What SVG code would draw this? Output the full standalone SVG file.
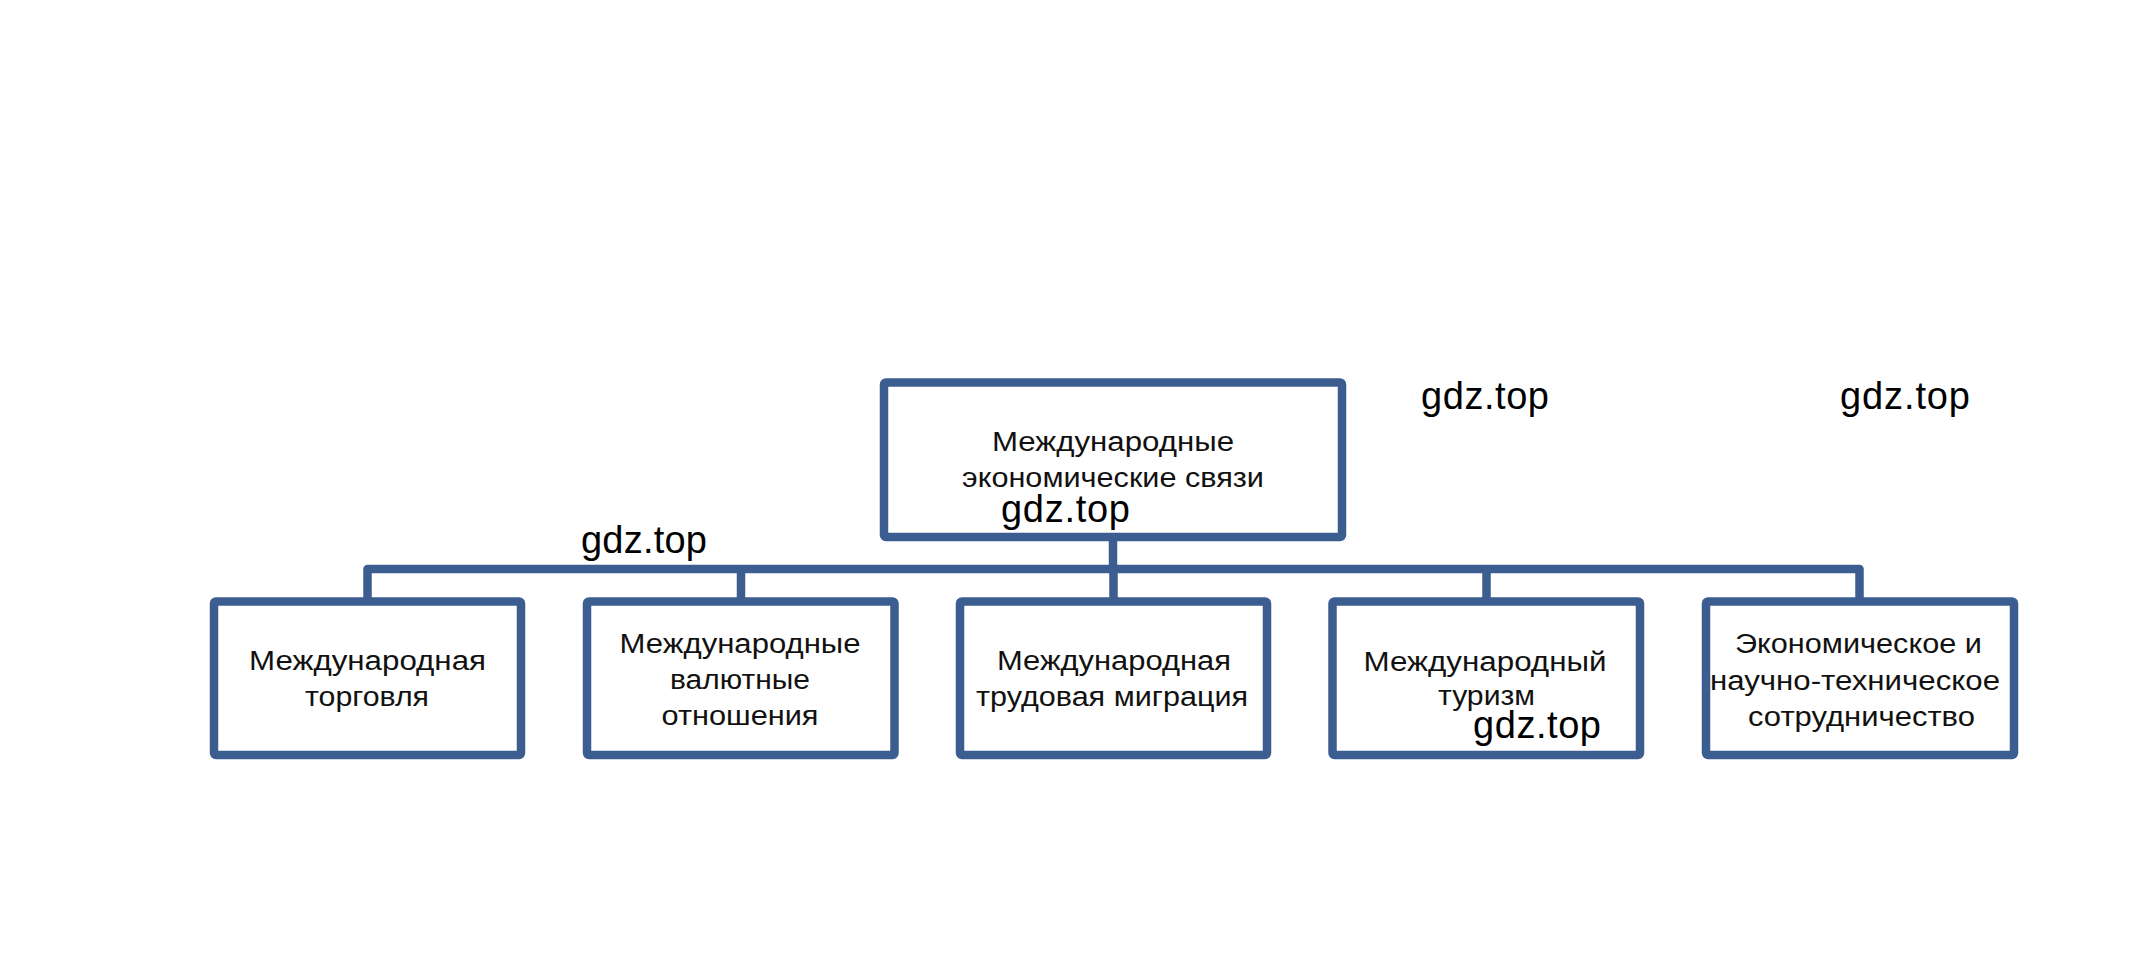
<svg xmlns="http://www.w3.org/2000/svg" width="2136" height="977" viewBox="0 0 2136 977">
<style>
.box{fill:#ffffff;stroke:#3c5d8f;stroke-width:8.5;stroke-linejoin:round}
.conn{fill:none;stroke:#3c5d8f;stroke-width:8.5;stroke-linejoin:round}
.lbl{font-family:"Liberation Sans",Arial,sans-serif;font-size:27px;fill:#111111;text-anchor:middle}
.wm{font-family:"Liberation Sans",Arial,sans-serif;font-size:38px;fill:#000000}
</style>
<rect width="2136" height="977" fill="#ffffff"/>
<g id="connectors">
<path class="conn" d="M1113 537 V569"/>
<path class="conn" d="M367.5 601.5 V569 H1859.5 V601.5"/>
<path class="conn" d="M741 569 V601.5"/>
<path class="conn" d="M1113.5 569 V601.5"/>
<path class="conn" d="M1486.5 569 V601.5"/>
</g>
<g id="root">
<rect class="box" x="884" y="382.5" width="458" height="154.5" rx="2"/>
<text class="lbl" x="1113" y="451" textLength="242" lengthAdjust="spacingAndGlyphs">Международные</text>
<text class="lbl" x="1113" y="487" textLength="302" lengthAdjust="spacingAndGlyphs">экономические связи</text>
</g>
<g id="trade">
<rect class="box" x="214" y="601.5" width="307" height="153.5" rx="2"/>
<text class="lbl" x="367.5" y="670" textLength="237" lengthAdjust="spacingAndGlyphs">Международная</text>
<text class="lbl" x="367" y="706" textLength="124" lengthAdjust="spacingAndGlyphs">торговля</text>
</g>
<g id="currency">
<rect class="box" x="587" y="601.5" width="307.5" height="153.5" rx="2"/>
<text class="lbl" x="740" y="652.5" textLength="241" lengthAdjust="spacingAndGlyphs">Международные</text>
<text class="lbl" x="740" y="688.5" textLength="140" lengthAdjust="spacingAndGlyphs">валютные</text>
<text class="lbl" x="740" y="725" textLength="157" lengthAdjust="spacingAndGlyphs">отношения</text>
</g>
<g id="migration">
<rect class="box" x="960" y="601.5" width="307" height="153.5" rx="2"/>
<text class="lbl" x="1114" y="670" textLength="234" lengthAdjust="spacingAndGlyphs">Международная</text>
<text class="lbl" x="1112" y="706" textLength="272" lengthAdjust="spacingAndGlyphs">трудовая миграция</text>
</g>
<g id="tourism">
<rect class="box" x="1332.5" y="601.5" width="307.5" height="153.5" rx="2"/>
<text class="lbl" x="1485" y="670.5" textLength="243" lengthAdjust="spacingAndGlyphs">Международный</text>
<text class="lbl" x="1486.5" y="705" textLength="97" lengthAdjust="spacingAndGlyphs">туризм</text>
</g>
<g id="cooperation">
<rect class="box" x="1706" y="601.5" width="308" height="153.5" rx="2"/>
<text class="lbl" x="1858.5" y="653" textLength="247" lengthAdjust="spacingAndGlyphs">Экономическое и</text>
<text class="lbl" x="1855" y="689.5" textLength="290" lengthAdjust="spacingAndGlyphs">научно-техническое</text>
<text class="lbl" x="1861.5" y="725.5" textLength="227" lengthAdjust="spacingAndGlyphs">сотрудничество</text>
</g>
<g id="watermarks">
<text class="wm" x="1421" y="409" textLength="128">gdz.top</text>
<text class="wm" x="1840" y="409" textLength="130">gdz.top</text>
<text class="wm" x="1001" y="522" textLength="129">gdz.top</text>
<text class="wm" x="581" y="553" textLength="126">gdz.top</text>
<text class="wm" x="1473" y="738" textLength="128">gdz.top</text>
</g>
</svg>
